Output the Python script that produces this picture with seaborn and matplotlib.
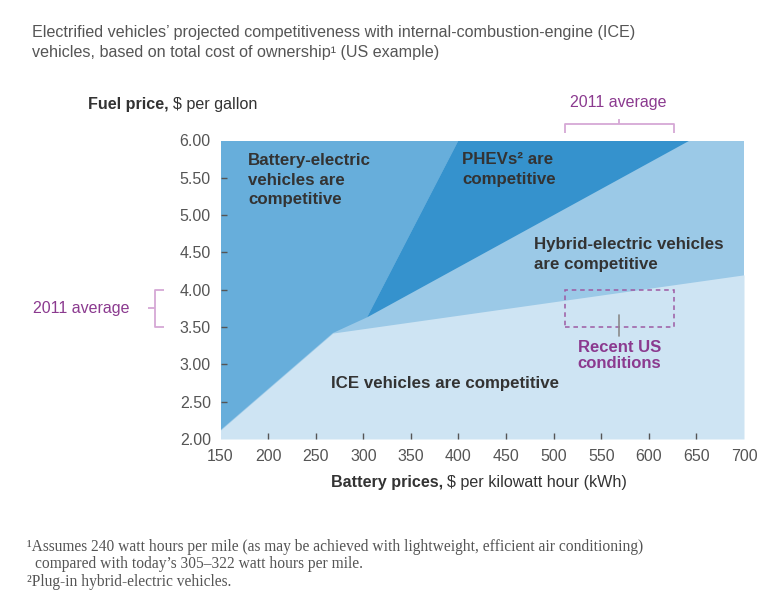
import matplotlib
matplotlib.use("Agg")
import matplotlib.pyplot as plt
import seaborn as sns
import numpy as np
import pandas as pd
from matplotlib.patches import Rectangle, Polygon

# ---------------- data ----------------
battery_ticks = [150, 200, 250, 300, 350, 400, 450, 500, 550, 600, 650, 700]
fuel_ticks = [2.00, 2.50, 3.00, 3.50, 4.00, 4.50, 5.00, 5.50, 6.00]

# boundary of the battery-electric region (battery $/kWh, fuel $/gal)
bev_edge_x = [150, 268, 304, 400]
bev_edge_y = [2.12, 3.42, 3.63, 6.00]
# boundary between PHEV and hybrid regions
phev_edge_x = [304, 643]
phev_edge_y = [3.63, 6.00]
# upper boundary of the ICE region
ice_edge_x = [150, 268, 700]
ice_edge_y = [2.12, 3.42, 4.20]

# recent US conditions / 2011 averages
recent_battery = [512, 626]
recent_fuel = [3.50, 4.00]

# ---------------- style ----------------
sns.set_theme(style="white")
plt.rcParams["font.family"] = ["Liberation Sans", "DejaVu Sans"]

C_BEV = "#67aedb"
C_PHEV = "#3592cd"
C_HYB = "#9bc9e7"
C_ICE = "#cee4f3"
PURPLE = "#8b3a8f"
LILAC = "#d6a8d6"
DARK = "#333333"
GREY = "#555555"

W, H = 766, 596
fig = plt.figure(figsize=(W / 100, H / 100), dpi=100)
ax_l, ax_r, ax_t, ax_b = 220.5, 744, 140.5, 439
ax = fig.add_axes([ax_l / W, 1 - ax_b / H, (ax_r - ax_l) / W, (ax_b - ax_t) / H])
ax.set_axisbelow(False)

xmin, xmax = battery_ticks[0], battery_ticks[-1]
ymin, ymax = fuel_ticks[0], fuel_ticks[-1]

# battery-electric background
sns.lineplot(x=[xmin, xmax], y=[ymax, ymax], ax=ax, color=C_BEV, linewidth=0)
ax.fill_between([xmin, xmax], ymin, ymax, color=C_BEV, linewidth=0)

# hybrid region (everything right of BEV edge), PHEV wedge and ICE area on top
hyb_poly = list(zip(bev_edge_x, bev_edge_y)) + [(xmax, ymax), (xmax, ymin), (xmin, ymin)]
ax.add_patch(Polygon(hyb_poly, closed=True, facecolor=C_HYB, edgecolor="none"))
phev_poly = [(bev_edge_x[2], bev_edge_y[2]), (bev_edge_x[3], bev_edge_y[3]),
             (phev_edge_x[1], phev_edge_y[1]), (phev_edge_x[0], phev_edge_y[0])]
ax.add_patch(Polygon(phev_poly, closed=True, facecolor=C_PHEV, edgecolor="none"))
ax.fill_between(ice_edge_x, ymin, ice_edge_y, color=C_ICE, linewidth=0)

ax.set_xlim(xmin, xmax)
ax.set_ylim(ymin, ymax)
for s in ax.spines.values():
    s.set_visible(False)

ax.set_xticks(battery_ticks)
ax.set_xticklabels([str(v) for v in battery_ticks])
ax.set_yticks(fuel_ticks)
ax.set_yticklabels([f"{v:.2f}" for v in fuel_ticks])
ax.tick_params(axis="both", direction="in", length=4.5, width=1, color="#555555",
               labelsize=11.5, labelcolor=GREY, pad=7, left=True, bottom=True)
for t in (ax.xaxis.get_major_ticks()[0], ax.xaxis.get_major_ticks()[-1],
          ax.yaxis.get_major_ticks()[0], ax.yaxis.get_major_ticks()[-1]):
    t.tick1line.set_visible(False)
ax.set_xlabel("")
ax.set_ylabel("")

# region labels
lab = dict(fontsize=12.2, fontweight="bold", color=DARK, linespacing=1.37)
ax.text(179, 5.47, "Battery-electric\nvehicles are\ncompetitive", ha="left", va="center", **lab)
ax.text(404, 5.61, "PHEVs² are\ncompetitive", ha="left", va="center", **lab)
ax.text(479, 4.47, "Hybrid-electric vehicles\nare competitive", ha="left", va="center", **lab)
ax.text(386, 2.74, "ICE vehicles are competitive", ha="center", va="center", **lab)

# recent US conditions box
ax.add_patch(Rectangle((recent_battery[0], recent_fuel[0]),
                       recent_battery[1] - recent_battery[0], recent_fuel[1] - recent_fuel[0],
                       fill=False, edgecolor="#9d5aa3", linestyle=(0, (3, 2.5)), linewidth=1.1))
cx = (recent_battery[0] + recent_battery[1]) / 2
ax.plot([cx, cx], [3.66, 3.38], color="#8a8a8a", linewidth=1.2)
ax.text(cx, 3.12, "Recent US\nconditions", ha="center", va="center", fontsize=12,
        fontweight="bold", color=PURPLE, linespacing=1.15)

# 2011 average bracket on top
bk = dict(color=LILAC, linewidth=1.3, clip_on=False, solid_capstyle="butt")
ax.plot([recent_battery[0], recent_battery[0], recent_battery[1], recent_battery[1]],
        [6.10, 6.217, 6.217, 6.10], **bk)
ax.plot([cx, cx], [6.217, 6.29], **bk)
# 2011 average bracket on the left
bx, bx2, bx0 = 81.2, 90.7, 73.8
ax.plot([bx2, bx, bx, bx2], [recent_fuel[1], recent_fuel[1], recent_fuel[0], recent_fuel[0]], **bk)
ax.plot([bx0, bx], [3.75, 3.75], **bk)


def ft(x, y, s, **kw):
    fig.text(x / W, 1 - y / H, s, **kw)


ft(618, 103, "2011 average", ha="center", va="center", fontsize=11.5, color=PURPLE)
ft(81, 308, "2011 average", ha="center", va="center", fontsize=11.5, color=PURPLE)

# title
ft(32, 33, "Electrified vehicles\u2019 projected competitiveness with internal-combustion-engine (ICE)",
   ha="left", va="center", fontsize=11.6, color=GREY)
ft(32, 53, "vehicles, based on total cost of ownership\u00b9 (US example)",
   ha="left", va="center", fontsize=11.6, color=GREY)

# axis titles
t1 = fig.text(88 / W, 1 - 104 / H, "Fuel price,", ha="left", va="center", fontsize=11.6,
              fontweight="bold", color=DARK)
fig.canvas.draw()
bb = t1.get_window_extent()
fig.text((bb.x1 + 4) / W, 1 - 104 / H, "$ per gallon", ha="left", va="center", fontsize=11.6, color=DARK)

t2 = fig.text(331 / W, 1 - 482 / H, "Battery prices,", ha="left", va="center", fontsize=11.6,
              fontweight="bold", color=DARK)
fig.canvas.draw()
bb = t2.get_window_extent()
fig.text((bb.x1 + 4) / W, 1 - 482 / H, "$ per kilowatt hour (kWh)", ha="left", va="center",
         fontsize=11.6, color=DARK)

# footnotes
fn = dict(ha="left", va="center", fontsize=11.2, color="#555555", family=["Liberation Serif", "DejaVu Serif"])
ft(27, 547, "\u00b9Assumes 240 watt hours per mile (as may be achieved with lightweight, efficient air conditioning)", **fn)
ft(35, 564, "compared with today\u2019s 305\u2013322 watt hours per mile.", **fn)
ft(27, 582, "\u00b2Plug-in hybrid-electric vehicles.", **fn)

fig.savefig("out.png", dpi=100)
